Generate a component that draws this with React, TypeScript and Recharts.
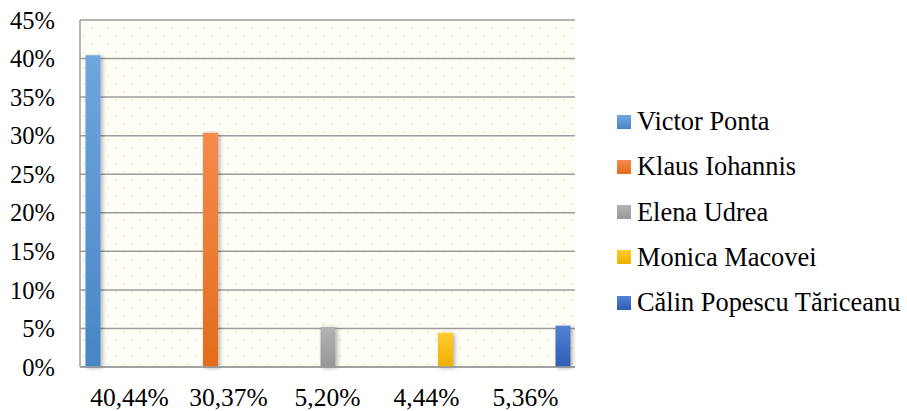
import { Bar, BarChart, CartesianGrid, XAxis, YAxis } from 'recharts';

// candidates and their vote share (%), one bar per candidate
const candidates = ['Victor Ponta', 'Klaus Iohannis', 'Elena Udrea', 'Monica Macovei', 'Călin Popescu Tăriceanu'];
const shares = [40.44, 30.37, 5.2, 4.44, 5.36];
const categoryLabels = ['40,44%', '30,37%', '5,20%', '4,44%', '5,36%'];
const yTicks = [0, 5, 10, 15, 20, 25, 30, 35, 40, 45];

// [top, bottom] gradient stops for each candidate
const barColors = [
    ['#6EA6DE', '#4786C6'],
    ['#F58A4C', '#E46C1B'],
    ['#B2B2B2', '#979797'],
    ['#FFCB2E', '#EDB100'],
    ['#5282D2', '#2F5DB2'],
];

const keys = candidates.map((_, i) => `c${i}`);

// each category row only carries the value of its own candidate
const rows = categoryLabels.map((label, i) => {
    const row: Record<string, string | number | null> = { label };
    keys.forEach((k, j) => { row[k] = i === j ? shares[i] : null; });
    return row;
});

const font = "'Times New Roman', Times, 'Liberation Serif', serif";

const App = () => {
    return (
        <div style={{ position: 'absolute', left: 0, top: 0, width: 907, height: 411, background: '#fff', fontFamily: font }}>
            <BarChart
                width={907}
                height={411}
                data={rows}
                margin={{ top: 20, right: 332, bottom: 0, left: 0 }}
                barCategoryGap={5.5}
                barGap={3.5}
                style={{ fontFamily: font }}
            >
                <defs>
                    <pattern id="dots" width="16" height="16" patternUnits="userSpaceOnUse">
                        <rect width="16" height="16" fill="#FFFEF6" />
                        <rect x="3" y="3" width="1.6" height="1.6" fill="#F2E6B4" />
                        <rect x="11" y="11" width="1.6" height="1.6" fill="#F2E6B4" />
                    </pattern>
                    {barColors.map(([top, bottom], i) => (
                        <linearGradient key={i} id={`g${i}`} x1="0" y1="0" x2="0" y2="1">
                            <stop offset="0%" stopColor={top} />
                            <stop offset="100%" stopColor={bottom} />
                        </linearGradient>
                    ))}
                    <filter id="shadow" x="-50%" y="-10%" width="200%" height="130%">
                        <feDropShadow dx="2" dy="1" stdDeviation="2" floodColor="#000" floodOpacity="0.3" />
                    </filter>
                </defs>
                <CartesianGrid vertical={false} stroke="#9C9C9C" strokeWidth={1.5} fill="url(#dots)" />
                <XAxis
                    dataKey="label"
                    height={44}
                    tickSize={0}
                    tickMargin={21}
                    axisLine={{ stroke: '#9C9C9C', strokeWidth: 1.5 }}
                    tick={{ fill: '#000', fontSize: 25.5, fontFamily: font }}
                />
                <YAxis
                    width={80}
                    domain={[0, 45]}
                    ticks={yTicks}
                    interval={0}
                    tickSize={0}
                    tickMargin={25}
                    tickFormatter={(v: number) => `${v}%`}
                    axisLine={{ stroke: '#9C9C9C', strokeWidth: 1.5 }}
                    tick={{ fill: '#000', fontSize: 24.5, fontFamily: font }}
                />
                {keys.map((k, i) => (
                    <Bar key={k} dataKey={k} fill={`url(#g${i})`} filter="url(#shadow)" isAnimationActive={false} />
                ))}
            </BarChart>
            <div style={{ position: 'absolute', left: 617, top: 99, fontFamily: font }}>
                {candidates.map((name, i) => (
                    <div key={name} style={{ display: 'flex', alignItems: 'center', height: 45.25, fontSize: 26.4, color: '#000', whiteSpace: 'nowrap' }}>
                        <span style={{ display: 'inline-block', width: 14, height: 14, marginRight: 6, background: `linear-gradient(${barColors[i][0]}, ${barColors[i][1]})` }} />
                        {name}
                    </div>
                ))}
            </div>
        </div>
    );
};

export default App;
